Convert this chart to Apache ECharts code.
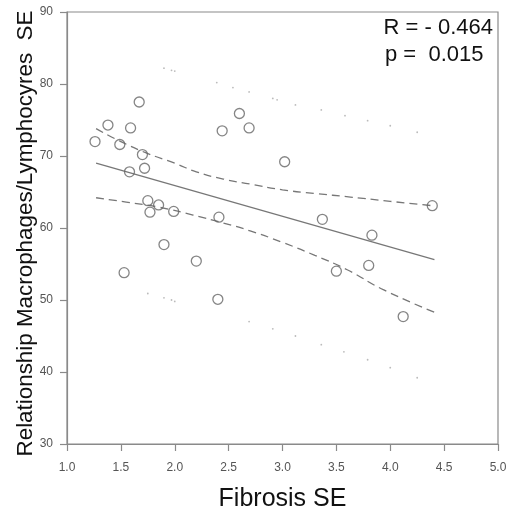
<!DOCTYPE html>
<html><head><meta charset="utf-8">
<script src="https://cdn.jsdelivr.net/npm/echarts@6/dist/echarts.min.js"></script>
<style>html,body{margin:0;padding:0;background:#fff}#c{width:508px;height:511px}</style>
</head><body><div id="c"></div>
<script>
const fibrosis = [1.26,1.38,1.67,1.59,1.49,1.70,1.72,1.58,1.75,1.85,1.77,1.99,2.41,2.44,2.60,2.69,3.02,4.39,3.37,1.53,1.90,2.20,2.40,3.83,3.50,3.80,4.12];
const ratio    = [72.0,74.3,77.5,73.9,71.6,70.2,68.3,67.8,63.8,63.2,62.2,62.3,61.5,73.5,75.9,73.9,69.2,63.1,61.2,53.8,57.7,55.4,50.1,59.0,54.0,54.8,47.7];
const fitX = [1.27, 4.41];
const fitY = [69.0, 55.6];
const ciUpperX = [1.27,1.50,1.74,2.00,2.20,2.45,2.70,3.00,3.30,3.63,4.00,4.39];
const ciUpperY = [73.8,72.0,70.4,69.0,67.8,66.8,66.1,65.3,64.8,64.3,63.7,63.1];
const ciLowerX = [1.27,1.55,1.85,2.17,2.45,2.70,3.00,3.30,3.60,3.94,4.41];
const ciLowerY = [64.2,63.6,62.9,61.8,60.7,59.6,58.0,56.2,54.2,51.4,48.3];
const piUpperX = [1.90,1.97,2.00,2.39,2.54,2.69,2.91,2.95,3.12,3.36,3.58,3.79,4.00,4.25];
const piUpperY = [82.2,81.9,81.8,80.2,79.5,78.9,78.0,77.8,77.1,76.4,75.6,74.9,74.2,73.3];
const piLowerX = [1.75,1.90,1.97,2.00,2.69,2.91,3.12,3.36,3.57,3.79,4.00,4.25];
const piLowerY = [50.9,50.3,50.0,49.8,47.0,46.0,45.0,43.8,42.8,41.7,40.6,39.2];
const xTicks = {min:1.0, max:5.0, interval:0.5};
const yTicks = {min:30, max:90, interval:10};
const statR = 'R = - 0.464';
const statP = 'p =  0.015';
const xName = 'Fibrosis SE';
const yName = 'Relationship Macrophages/Lymphocyres  SE';

const zip = (a,b)=>a.map((v,i)=>[v,b[i]]);
const font = 'Liberation Sans, Arial, sans-serif';
const axisCol = '#8a8a8a';
const chart = echarts.init(document.getElementById('c'));
chart.setOption({
  animation:false,
  grid:{left:67,right:10,top:12,bottom:67,show:true,borderColor:axisCol,borderWidth:1.2,
    containLabel:false,outerBoundsMode:'none'},
  xAxis:{type:'value',min:xTicks.min,max:xTicks.max,interval:xTicks.interval,
    name:xName,nameLocation:'middle',nameGap:43,nameMoveOverlap:false,
    nameTextStyle:{fontSize:25,color:'#111',fontFamily:font},
    axisLine:{lineStyle:{color:axisCol,width:1.2}},
    axisTick:{show:true,length:7,lineStyle:{color:axisCol,width:1.2}},
    axisLabel:{formatter:v=>v.toFixed(1),color:'#555',fontSize:12,fontFamily:font,margin:18},
    splitLine:{show:false}},
  yAxis:{type:'value',min:yTicks.min,max:yTicks.max,interval:yTicks.interval,
    name:yName,nameLocation:'middle',nameGap:30,nameMoveOverlap:false,
    nameTextStyle:{fontSize:22.4,color:'#111',fontFamily:font,padding:[0,11,0,0]},
    axisLine:{show:true,lineStyle:{color:axisCol,width:1.2}},
    axisTick:{show:true,length:7,lineStyle:{color:axisCol,width:1.2}},
    axisLabel:{color:'#555',fontSize:12,fontFamily:font,margin:14},
    splitLine:{show:false}},
  graphic:[
    {type:'text',right:15,top:17,style:{text:statR,fontSize:22,fill:'#111',fontFamily:font}},
    {type:'text',left:385,top:44,style:{text:statP,fontSize:22,fill:'#111',fontFamily:font}}
  ],
  series:[
    {type:'line',data:zip(ciUpperX,ciUpperY),symbol:'none',smooth:true,
      lineStyle:{color:'#777',width:1.3,type:[8,5]},z:2},
    {type:'line',data:zip(ciLowerX,ciLowerY),symbol:'none',smooth:true,
      lineStyle:{color:'#777',width:1.3,type:[8,5]},z:2},
    {type:'line',data:zip(fitX,fitY),symbol:'none',
      lineStyle:{color:'#777',width:1.3},z:2},
    {type:'scatter',data:zip(piUpperX,piUpperY),symbol:'circle',symbolSize:1.8,
      itemStyle:{color:'#aaa'},z:1},
    {type:'scatter',data:zip(piLowerX,piLowerY),symbol:'circle',symbolSize:1.8,
      itemStyle:{color:'#aaa'},z:1},
    {type:'scatter',data:zip(fibrosis,ratio),symbol:'circle',symbolSize:10,
      itemStyle:{color:'rgba(255,255,255,0)',borderColor:'#666',borderWidth:1.3},z:3}
  ]
});
</script></body></html>
